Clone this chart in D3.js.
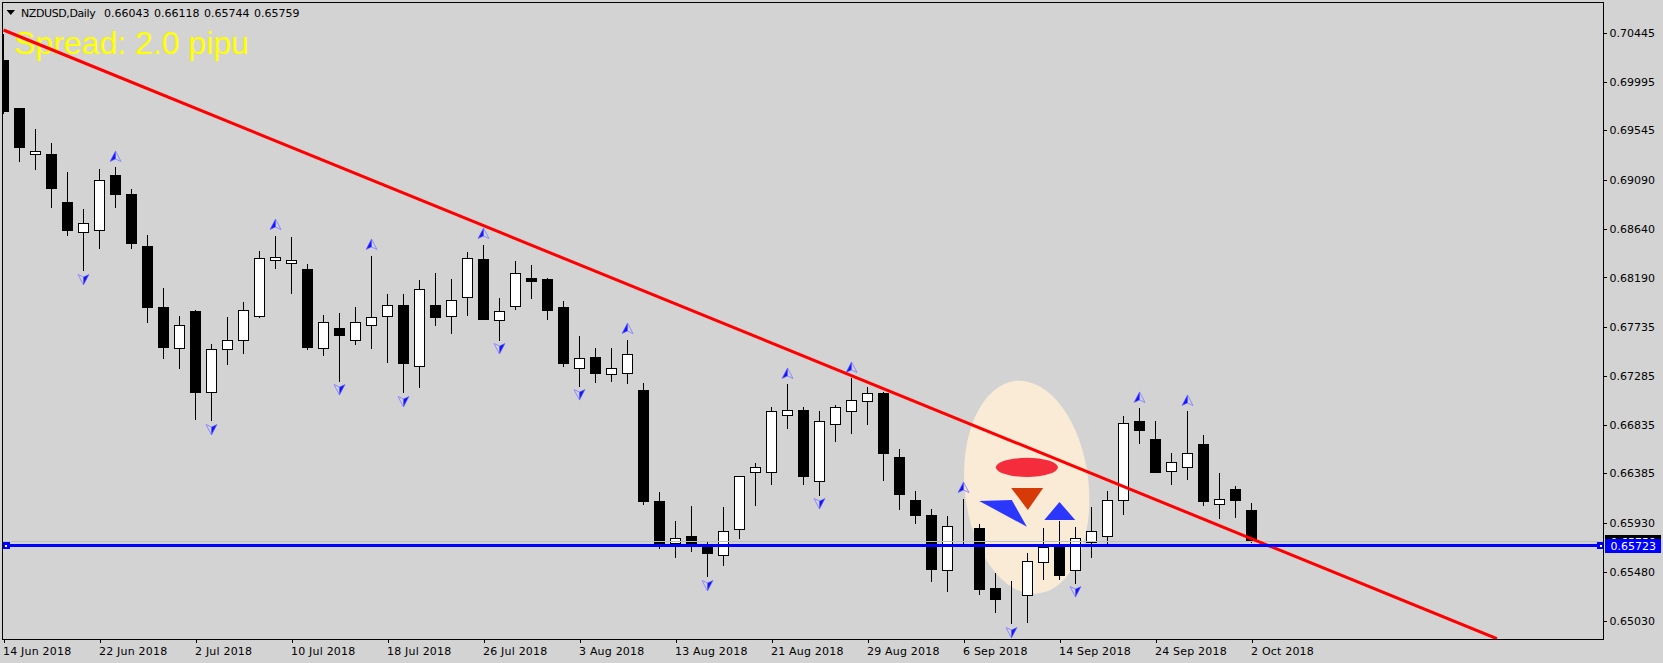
<!DOCTYPE html>
<html>
<head>
<meta charset="utf-8">
<style>
html,body{margin:0;padding:0;background:#d3d3d3;overflow:hidden}
svg{display:block}
text{font-family:"DejaVu Sans",sans-serif;font-size:11px;fill:#000}
</style>
<script src="https://d3js.org/d3.v7.min.js"></script>
</head>
<body>
<svg id="chart" width="1663" height="663"></svg>
<script>
const symbolTitle = "NZDUSD,Daily";
const ohlcHeader = ["0.66043","0.66118","0.65744","0.65759"];
const spreadLabel = "Spread: 2.0 pipu";

const dateTicks = ["14 Jun 2018","22 Jun 2018","2 Jul 2018","10 Jul 2018","18 Jul 2018","26 Jul 2018","3 Aug 2018","13 Aug 2018","21 Aug 2018","29 Aug 2018","6 Sep 2018","14 Sep 2018","24 Sep 2018","2 Oct 2018"];
const dateTickBars = [0,6,12,18,24,30,36,42,48,54,60,66,72,78];
const priceTicks = [0.70445,0.69995,0.69545,0.69090,0.68640,0.68190,0.67735,0.67285,0.66835,0.66385,0.65930,0.65480,0.65030];

const open = [.70193,.69751,.69327,.69327,.68885,.68600,.68627,.69134,.68959,.68471,.67909,.67540,.67881,.67135,.67531,.67605,.67826,.68351,.68323,.68268,
.67540,.67724,.67614,.67752,.67835,.67936,.67374,.67936,.67835,.68010,.68360,.67798,.67927,.68185,.68176,.67909,.67356,.67457,.67292,.67310,
.67153,.66122,.65735,.65808,.65725,.65633,.65864,.66389,.66389,.66923,.66960,.66315,.66840,.66951,.67043,.67117,.66536,.66140,.65993,.65495,
.65873,.65882,.65329,.65237,.65256,.65560,.65725,.65495,.65753,.65808,.66131,.66859,.66702,.66407,.66435,.66647,.66103,.66241,.66043];
const high = [.70442,.69751,.69558,.69429,.69162,.68821,.69198,.69208,.69014,.68590,.68102,.67844,.67899,.67586,.67826,.67973,.68443,.68581,.68563,.68323,
.67853,.67863,.67927,.68397,.68047,.68047,.68167,.68240,.68185,.68425,.68498,.68001,.68342,.68314,.68194,.67982,.67651,.67549,.67549,.67623,
.67227,.66214,.65947,.66094,.65762,.66076,.66361,.66490,.67006,.67209,.67006,.66960,.67024,.67264,.67190,.67144,.66619,.66223,.66066,.65993,
.66158,.65928,.65468,.65403,.65652,.65891,.65947,.65900,.66076,.66223,.66923,.66988,.66877,.66582,.66960,.66739,.66389,.66278,.66118];
const low = [.69705,.69263,.69189,.68839,.68581,.68250,.68461,.68839,.68461,.67771,.67448,.67347,.66886,.66868,.67384,.67494,.67817,.68277,.68047,.67531,
.67467,.67236,.67568,.67540,.67411,.67126,.67181,.67752,.67678,.67844,.67807,.67614,.67899,.67992,.67807,.67374,.67190,.67227,.67236,.67209,
.66103,.65689,.65606,.65670,.65431,.65541,.65781,.66094,.66287,.66803,.66287,.66186,.66683,.66757,.66840,.66324,.66057,.65919,.65385,.65293,
.65725,.65265,.65108,.64998,.65007,.65412,.65412,.65375,.65606,.65725,.66002,.66656,.66398,.66287,.66333,.66094,.65974,.65983,.65744];
const close = [.69723,.69383,.69346,.69014,.68627,.68683,.69079,.68950,.68507,.67918,.67549,.67752,.67135,.67531,.67614,.67890,.68369,.68378,.68351,.67549,
.67771,.67660,.67771,.67817,.67936,.67393,.68075,.67817,.67982,.68369,.67807,.67881,.68231,.68157,.67890,.67393,.67448,.67310,.67347,.67476,
.66122,.65735,.65790,.65725,.65643,.65854,.66352,.66435,.66951,.66960,.66352,.66859,.66988,.67061,.67117,.66573,.66195,.65993,.65504,.65900,
.65873,.65320,.65228,.65237,.65578,.65707,.65440,.65781,.65854,.66140,.66849,.66776,.66398,.66481,.66564,.66122,.66149,.66131,.65759];

const fractalUpBars = [7,17,23,30,39,49,53,60,71,74];
const fractalDownBars = [5,13,21,25,31,36,44,51,63,67];

const supportPrice = 0.65723;
const bidPrice = 0.65759;
const trendBars = [0,93.34];
const trendPrices = [0.70470,0.64862];

const creamEllipse = {bar:63.95, price:0.66258, barRadius:3.875, priceRadius:0.00985, tilt:-6};
const redEllipse = {bar:63.96, price:0.66441, barRadius:1.94, priceRadius:0.00088};
const orangeTriangle = [[62.98,.66251],[64.98,.66251],[64.02,.66048]];
const blueSliver = [[60.98,.66131],[63.02,.66140],[63.96,.65894]];
const blueTriangle = [[65.05,.65956],[66.0,.66122],[66.98,.65956]];

const W=1663,H=663,L=2.5,T=2.5,R=1603.5,B=639.5;
const x = d3.scaleLinear().domain([0,100]).range([3.5,1603.5]);
const y = d3.scaleLinear().domain([0.65030,0.70445]).range([620.5,32.7]);
const snap = v => Math.round(v-0.5)+0.5;
const svg = d3.select("#chart");

svg.append("defs").append("clipPath").attr("id","plot").append("rect")
  .attr("x",L).attr("y",T).attr("width",R-L).attr("height",B-T);

const plot = svg.append("g").attr("clip-path","url(#plot)");

// annotations behind the candles
plot.append("ellipse").attr("cx",0).attr("cy",0)
  .attr("rx",x(creamEllipse.barRadius)-x(0))
  .attr("ry",y(0.65030)-y(0.65030+creamEllipse.priceRadius))
  .attr("transform",`translate(${x(creamEllipse.bar)},${y(creamEllipse.price)}) rotate(${creamEllipse.tilt})`)
  .attr("fill","#faebd7");
plot.append("ellipse").attr("cx",x(redEllipse.bar)).attr("cy",y(redEllipse.price))
  .attr("rx",x(redEllipse.barRadius)-x(0))
  .attr("ry",y(0.65030)-y(0.65030+redEllipse.priceRadius))
  .attr("fill","#f52c3c");
const tri = d3.line().x(d=>x(d[0])).y(d=>y(d[1])).curve(d3.curveLinearClosed);
plot.append("path").attr("d",tri(orangeTriangle)).attr("fill","#d63a06");
plot.append("path").attr("d",tri(blueSliver)).attr("fill","#2b36ff");
plot.append("path").attr("d",tri(blueTriangle)).attr("fill","#2b36ff");

// spread label
plot.append("text").attr("x",14).attr("y",54).text(spreadLabel)
  .style("font-family","'Liberation Sans',Arial,sans-serif").style("font-size","32px").style("fill","#ffff00");

// candles
const candles = plot.append("g").attr("shape-rendering","crispEdges");
const idx = d3.range(open.length);
candles.selectAll("line.wick").data(idx).join("line").attr("class","wick")
  .attr("x1",i=>x(i)).attr("x2",i=>x(i))
  .attr("y1",i=>snap(y(high[i]))).attr("y2",i=>snap(y(low[i])))
  .attr("stroke","#000").attr("stroke-width",1);
candles.selectAll("rect.body").data(idx).join("rect").attr("class","body")
  .attr("x",i=>x(i)-5).attr("width",10)
  .attr("y",i=>snap(y(Math.max(open[i],close[i]))))
  .attr("height",i=>Math.max(0,snap(y(Math.min(open[i],close[i])))-snap(y(Math.max(open[i],close[i])))))
  .attr("fill",i=>close[i]>open[i]?"#fff":"#000")
  .attr("stroke","#000").attr("stroke-width",1);

// fractal arrows
function arrow(g,bar,cy,rot){
  const a = g.append("g").attr("transform",`translate(${x(bar)},${cy}) rotate(${rot})`);
  a.append("path").attr("d","M0,-6 L5.5,4.5 L0,2 Z").attr("fill","none").attr("stroke","#8c8cff").attr("stroke-width",1);
  a.append("path").attr("d","M0,-6 L-5.5,4.5 L0,2 Z").attr("fill","#1414ff").attr("stroke","#6a6aff").attr("stroke-width",0.6);
}
const arrows = plot.append("g");
fractalUpBars.forEach(b=>arrow(arrows,b,y(high[b])-10,0));
fractalDownBars.forEach(b=>arrow(arrows,b,y(low[b])+8,180));

// bid line, trend line, support line
plot.append("line").attr("x1",L).attr("x2",R).attr("y1",snap(y(bidPrice))).attr("y2",snap(y(bidPrice)))
  .attr("stroke","#c0c0c0").attr("shape-rendering","crispEdges");
plot.append("line").attr("x1",x(trendBars[0])).attr("y1",y(trendPrices[0]))
  .attr("x2",x(trendBars[1])).attr("y2",y(trendPrices[1]))
  .attr("stroke","#ff0000").attr("stroke-width",3);
plot.append("line").attr("x1",L).attr("x2",R).attr("y1",snap(y(supportPrice))).attr("y2",snap(y(supportPrice)))
  .attr("stroke","#0000ff").attr("stroke-width",3).attr("shape-rendering","crispEdges");
[x(0)+2.5,x(99.82)].forEach(px=>{
  plot.append("rect").attr("x",px-3.5).attr("y",snap(y(supportPrice))-3.5).attr("width",7).attr("height",7)
    .attr("fill","#0000ff").attr("shape-rendering","crispEdges");
  plot.append("rect").attr("x",px-1).attr("y",snap(y(supportPrice))-1).attr("width",2).attr("height",2)
    .attr("fill","#fff").attr("shape-rendering","crispEdges");
});

// axes
const yAxis = d3.axisRight(y).tickValues(priceTicks).tickFormat(d3.format(".5f")).tickSize(3).tickPadding(3);
const yG = svg.append("g").attr("transform",`translate(${R},0)`).call(yAxis);
yG.select(".domain").remove();
yG.selectAll(".tick line").attr("stroke","#000").attr("shape-rendering","crispEdges");
yG.selectAll("text").attr("fill","#000").attr("font-family",null).attr("font-size",null);

const xAxis = d3.axisBottom(x).tickValues(dateTickBars).tickFormat((d,i)=>dateTicks[i]).tickSize(3).tickPadding(5);
const xG = svg.append("g").attr("transform",`translate(0,${B})`).call(xAxis);
xG.select(".domain").remove();
xG.selectAll(".tick line").attr("stroke","#000").attr("shape-rendering","crispEdges");
xG.selectAll("text").attr("text-anchor","start").attr("dx",-1).attr("font-family",null).attr("font-size",null).style("letter-spacing","0.2px");

svg.append("rect").attr("x",L).attr("y",T).attr("width",R-L).attr("height",B-T)
  .attr("fill","none").attr("stroke","#000").attr("shape-rendering","crispEdges");

// price tags
const tagG = svg.append("g");
const tag = (price,fill)=>{
  const py = snap(y(price));
  tagG.append("rect").attr("x",1605).attr("y",py-6.5).attr("width",56).attr("height",14).attr("fill",fill).attr("shape-rendering","crispEdges");
  tagG.append("text").attr("x",1610.5).attr("y",py+4.5).text(d3.format(".5f")(price)).style("fill","#fff");
};
tag(bidPrice,"#000");
tag(supportPrice,"#0000ff");

// title
svg.append("path").attr("d",d3.line()([[6.5,10],[15,10],[10.75,15]])+"Z").attr("fill","#000");
svg.append("text").attr("x",21).attr("y",16.5).text(symbolTitle).style("letter-spacing","-0.4px");
ohlcHeader.forEach((v,i)=>svg.append("text").attr("x",104+i*50).attr("y",16.5).text(v));
</script>
</body>
</html>
